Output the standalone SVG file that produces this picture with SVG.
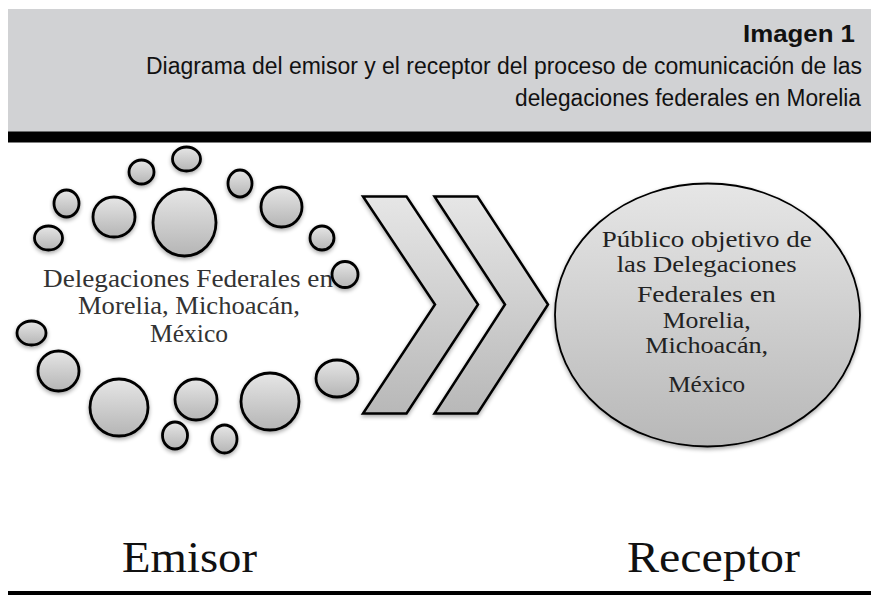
<svg xmlns="http://www.w3.org/2000/svg" width="871" height="595" viewBox="0 0 871 595">
<defs>
<linearGradient id="g" x1="0" y1="0" x2="0" y2="1">
<stop offset="0" stop-color="#e6e6e6"/>
<stop offset="1" stop-color="#b8b8b8"/>
</linearGradient>
<linearGradient id="gc" x1="0" y1="0" x2="0" y2="1">
<stop offset="0" stop-color="#e6e6e6"/>
<stop offset="1" stop-color="#b5b5b5"/>
</linearGradient>
<filter id="sh" x="-20%" y="-20%" width="140%" height="150%">
<feGaussianBlur in="SourceAlpha" stdDeviation="2"/>
<feOffset dx="0" dy="2" result="b"/>
<feComponentTransfer><feFuncA type="linear" slope="0.35"/></feComponentTransfer>
<feMerge><feMergeNode/><feMergeNode in="SourceGraphic"/></feMerge>
</filter>
</defs>
<style>
.hdr{font-family:"Liberation Sans","Lato",sans-serif;fill:#111}
.c{fill:url(#gc);stroke:#000;stroke-width:2.8;filter:url(#sh)}
.chev{fill:url(#g);stroke:#000;stroke-width:2.5;stroke-linejoin:miter;filter:url(#sh)}
.lbl{font-family:"Liberation Serif","DejaVu Serif",serif;font-size:25.5px;text-anchor:middle}
.rl{font-family:"Liberation Serif","DejaVu Serif",serif;font-size:22.5px;text-anchor:middle}
.big{font-family:"Liberation Serif","DejaVu Serif",serif;font-size:45px;fill:#111}
</style>
<rect width="871" height="595" fill="#fff"/>
<g id="header">
<rect x="8" y="9" width="863" height="123" fill="#d1d2d4"/>
<rect x="8" y="131.5" width="863" height="11" fill="#000"/>
<text class="hdr" x="855" y="42" font-size="24" font-weight="bold" text-anchor="end" textLength="112" lengthAdjust="spacingAndGlyphs">Imagen 1</text>
<text class="hdr" x="862" y="74" font-size="23" text-anchor="end" textLength="716" lengthAdjust="spacingAndGlyphs">Diagrama del emisor y el receptor del proceso de comunicación de las</text>
<text class="hdr" x="861" y="106" font-size="23" text-anchor="end" textLength="346" lengthAdjust="spacingAndGlyphs">delegaciones federales en Morelia</text>
</g>
<g id="emisor">
<text class="lbl" fill="#333"><tspan x="188" y="287" textLength="290" lengthAdjust="spacingAndGlyphs">Delegaciones Federales en</tspan><tspan x="189" y="314" textLength="222" lengthAdjust="spacingAndGlyphs">Morelia, Michoacán,</tspan><tspan x="189" y="342" textLength="78" lengthAdjust="spacingAndGlyphs">México</tspan></text>
<ellipse class="c" cx="186.5" cy="159" rx="14" ry="12"/>
<ellipse class="c" cx="141.5" cy="172" rx="12.5" ry="12"/>
<ellipse class="c" cx="240" cy="183.5" rx="12" ry="13.5"/>
<ellipse class="c" cx="66.5" cy="203.5" rx="12.5" ry="13.5"/>
<ellipse class="c" cx="114" cy="217" rx="21" ry="20"/>
<ellipse class="c" cx="184.5" cy="222.5" rx="31.5" ry="33.5"/>
<ellipse class="c" cx="281.5" cy="207" rx="20.5" ry="20"/>
<ellipse class="c" cx="48.5" cy="238" rx="14" ry="12"/>
<ellipse class="c" cx="322" cy="238" rx="12" ry="12"/>
<ellipse class="c" cx="345" cy="274.5" rx="13" ry="13"/>
<ellipse class="c" cx="31.5" cy="333" rx="14.5" ry="12"/>
<ellipse class="c" cx="58.5" cy="371" rx="20.5" ry="20"/>
<ellipse class="c" cx="119" cy="407.5" rx="29" ry="28.5"/>
<ellipse class="c" cx="196" cy="399.5" rx="21" ry="20.5"/>
<ellipse class="c" cx="175" cy="435.5" rx="12.5" ry="13.5"/>
<ellipse class="c" cx="224.5" cy="439" rx="12.5" ry="14"/>
<ellipse class="c" cx="270" cy="401.5" rx="29" ry="28.5"/>
<ellipse class="c" cx="337" cy="378.5" rx="21" ry="18.5"/>
</g>
<g id="connectors">
<polygon class="chev" points="363,196.5 406.5,196.5 478,304.5 406.5,413.5 363,413.5 435,304.5"/>
<polygon class="chev" points="434.5,196.5 477.5,196.5 548,304.5 477.5,413.5 434.5,413.5 505,304.5"/>
</g>
<g id="receptor">
<ellipse cx="707.5" cy="315" rx="152.5" ry="131.5" fill="url(#g)" stroke="#000" stroke-width="1.8" filter="url(#sh)"/>
<text class="rl" fill="#222"><tspan x="706.7" y="247" textLength="210" lengthAdjust="spacingAndGlyphs">Público objetivo de</tspan><tspan x="706.7" y="272" textLength="180" lengthAdjust="spacingAndGlyphs">las Delegaciones</tspan><tspan x="706.4" y="302" textLength="139" lengthAdjust="spacingAndGlyphs">Federales en</tspan><tspan x="706.7" y="327.5" textLength="88" lengthAdjust="spacingAndGlyphs">Morelia,</tspan><tspan x="706.7" y="353" textLength="123" lengthAdjust="spacingAndGlyphs">Michoacán,</tspan><tspan x="706.7" y="392" textLength="77" lengthAdjust="spacingAndGlyphs">México</tspan></text>
</g>
<g id="labels">
<text class="big" x="122" y="572" textLength="135" lengthAdjust="spacingAndGlyphs">Emisor</text>
<text class="big" x="627" y="572" textLength="173" lengthAdjust="spacingAndGlyphs">Receptor</text>
</g>
<rect x="8" y="591" width="863" height="4" fill="#000"/>
</svg>
